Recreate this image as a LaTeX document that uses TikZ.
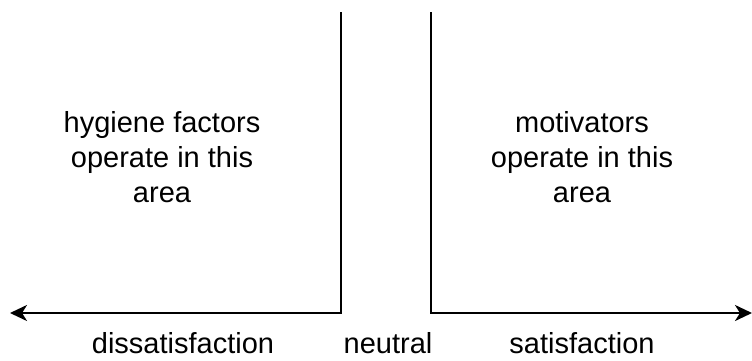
\documentclass[tikz,border=0pt]{standalone}
\usepackage{fontspec}
\setmainfont{Liberation Sans}
\usetikzlibrary{arrows.meta}
\begin{document}
\begin{tikzpicture}[x=1pt,y=1pt,inner sep=0pt,outer sep=0pt,line width=2.5pt,
zonetext/.style={align=center,anchor=base,font=\fontsize{29}{35}\selectfont},
axislabel/.style={anchor=base,font=\fontsize{29}{35}\selectfont},
tip/.style={-{Stealth[length=17pt,width=16pt,inset=5pt]}}]
\useasboundingbox (0,0) rectangle (752,360);
\coordinate (lefttop) at (341,348);
\coordinate (leftcorner) at (341,47);
\coordinate (leftend) at (10,47);
\coordinate (righttop) at (431,348);
\coordinate (rightcorner) at (431,47);
\coordinate (rightend) at (752,47);
\draw[tip] (lefttop) -- (leftcorner) -- (leftend);
\draw[tip] (righttop) -- (rightcorner) -- (rightend);
% last line baseline of each block
\node[zonetext] (hygiene) at (162,158) {hygiene factors\\operate in this\\area};
\node[zonetext] (motivators) at (582,158) {motivators\\operate in this\\area};
\node[axislabel] (dissat) at (183,7) {dissatisfaction};
\node[axislabel] (neutral) at (388,7) {neutral};
\node[axislabel] (sat) at (582,7) {satisfaction};
\end{tikzpicture}
\end{document}
